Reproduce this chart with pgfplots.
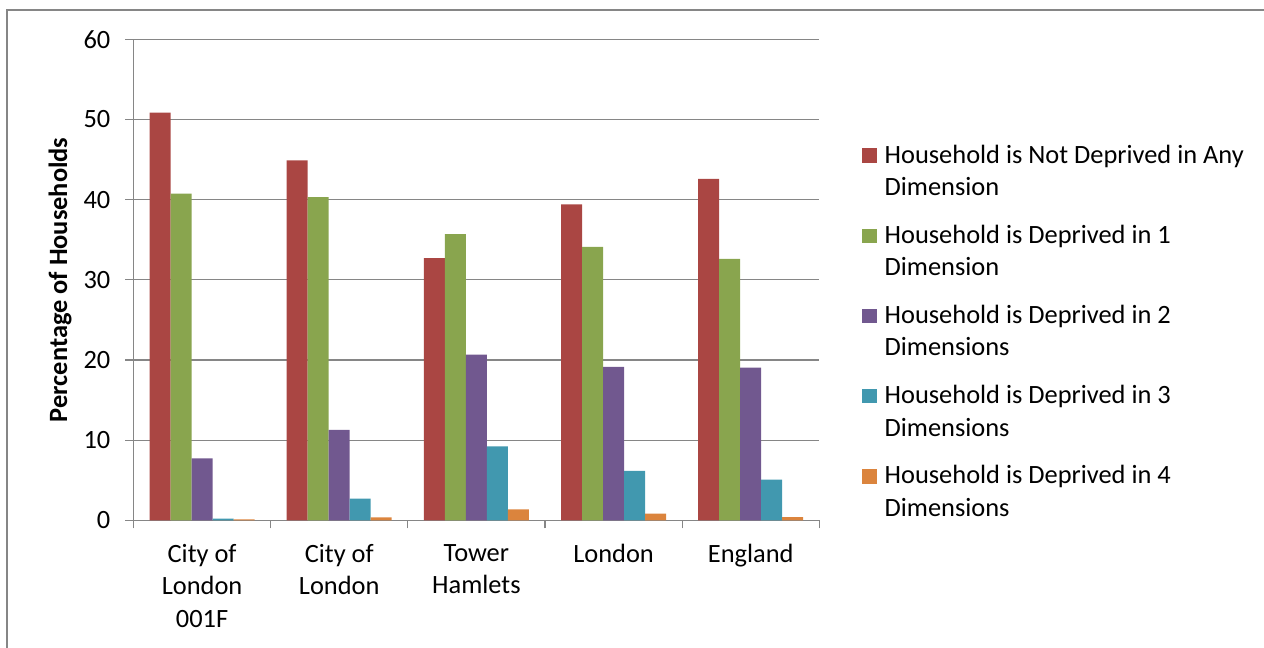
\documentclass[border=0pt]{standalone}
\usepackage{fontspec}
\setmainfont{Carlito}
\usepackage{pgfplots}
\pgfplotsset{compat=1.18}
\definecolor{cRed}{HTML}{AA4643}
\definecolor{cGreen}{HTML}{89A54E}
\definecolor{cPurple}{HTML}{71588F}
\definecolor{cTeal}{HTML}{4198AF}
\definecolor{cOrange}{HTML}{DB843D}
\definecolor{gridgray}{HTML}{868686}
\newcommand{\chartfont}{\fontsize{26.4}{32.3}\selectfont}
\newcommand{\twol}[2]{\begin{tabular}[t]{@{}l@{}}#1\\#2\end{tabular}}
\begin{document}
\begin{tikzpicture}[x=1pt,y=1pt]
\useasboundingbox (0,0) rectangle (1264,648);
\draw[gridgray, line width=2pt] (7.3,-20) -- (7.3,638.3) -- (1290,638.3);
\begin{axis}[
  at={(133.5pt,127.7pt)}, anchor=south west,
  scale only axis, width=685.8pt, height=481pt,
  xmin=-0.5, xmax=4.5, ymin=0, ymax=60,
  ybar=0pt, bar width=21pt,
  axis lines*=left,
  axis line style={-, draw=gridgray, line width=1.2pt},
  ymajorgrids, grid style={draw=gridgray, line width=1.2pt},
  ytick={0,10,...,60},
  xtick={0,1,2,3,4},
  xticklabels={{City of\\London\\001F},{City of\\London},{Tower\\Hamlets},{London},{England}},
  minor xtick={-0.5,0.5,1.5,2.5,3.5,4.5},
  major x tick style={draw=none},
  minor x tick style={draw=gridgray, line width=1.2pt},
  y tick style={draw=gridgray, line width=1.2pt},
  tick align=outside,
  major tick length=8pt, minor tick length=8pt,
  /pgf/number format/assume math mode=true,
  tick label style={font=\chartfont},
  xticklabel style={align=center, anchor=north, inner sep=0pt, yshift=-16pt},
  yticklabel style={anchor=east, inner sep=0pt, xshift=-15pt},
  ylabel={\textbf{Percentage of Households}},
  ylabel style={font=\chartfont, at={(axis description cs:-0.1072,0.5)}, anchor=center},
  legend cell align=left,
  legend style={draw=none, fill=none, inner sep=0pt, outer sep=0pt,
    at={(axis description cs:1.0627,0.789)}, anchor=north west,
    column sep=8pt, row sep=56pt,
    nodes={font=\chartfont, inner sep=0pt}},
  every axis plot/.append style={draw=none,
    legend image code/.code={\fill[##1] (0pt,-10.3pt) rectangle (14.4pt,4.4pt);}},
]
\addplot[fill=cRed] coordinates {(0,50.85) (1,44.9) (2,32.7) (3,39.4) (4,42.58)};
\addplot[fill=cGreen] coordinates {(0,40.75) (1,40.3) (2,35.7) (3,34.1) (4,32.6)};
\addplot[fill=cPurple] coordinates {(0,7.74) (1,11.27) (2,20.66) (3,19.13) (4,19.04)};
\addplot[fill=cTeal] coordinates {(0,0.2) (1,2.7) (2,9.23) (3,6.15) (4,5.07)};
\addplot[fill=cOrange] coordinates {(0,0.12) (1,0.37) (2,1.37) (3,0.82) (4,0.41)};
\legend{\twol{Household is Not Deprived in Any}{Dimension},
  \twol{Household is Deprived in 1}{Dimension},
  \twol{Household is Deprived in 2}{Dimensions},
  \twol{Household is Deprived in 3}{Dimensions},
  \twol{Household is Deprived in 4}{Dimensions}}
\end{axis}
\end{tikzpicture}
\end{document}
